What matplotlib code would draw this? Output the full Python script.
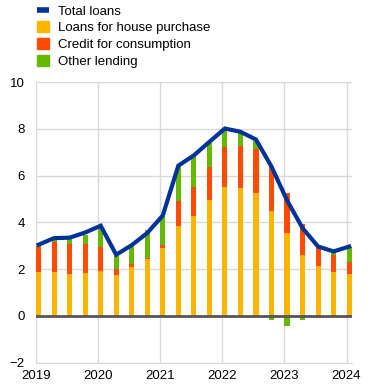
import numpy as np
import matplotlib.pyplot as plt
from matplotlib.patches import Patch
from matplotlib.lines import Line2D

plt.rcParams['font.family'] = ['Liberation Sans', 'DejaVu Sans']

# quarterly, 2019 Q1 .. 2024 Q1
years = ['2019', '2020', '2021', '2022', '2023', '2024']
house = [1.89, 1.89, 1.81, 1.85, 1.94, 1.77, 2.11, 2.45, 2.92, 3.86, 4.29,
         4.97, 5.53, 5.48, 5.27, 4.50, 3.57, 2.62, 2.12, 1.89, 1.81]
consumption = [1.06, 1.26, 1.29, 1.25, 0.99, 0.25, 0.13, 0.02, 0.11, 1.04, 1.21,
               1.41, 1.71, 1.81, 1.88, 1.92, 1.70, 1.32, 0.93, 0.72, 0.52]
other = [0.05, 0.11, 0.19, 0.37, 0.87, 0.56, 0.76, 1.22, 1.23, 1.52, 1.35,
         1.01, 0.72, 0.53, 0.34, -0.16, -0.42, -0.19, -0.10, 0.15, 0.60]
total = [3.05, 3.33, 3.35, 3.57, 3.86, 2.62, 3.03, 3.55, 4.30, 6.43, 6.87,
         7.45, 8.02, 7.88, 7.55, 6.39, 4.95, 3.76, 2.97, 2.76, 2.97]

c_blue = '#003299'
c_yellow = '#ffb400'
c_red = '#ff4b00'
c_green = '#65b800'

house = np.array(house)
consumption = np.array(consumption)
other = np.array(other)
x = np.arange(len(house))
w = 0.33

fig = plt.figure(figsize=(3.7, 3.88), dpi=100)
ax = fig.add_axes([0.0973, 0.0652, 0.8532, 0.7228])

ax.bar(x, house, w, color=c_yellow, zorder=2)
ax.bar(x, consumption, w, bottom=house, color=c_red, zorder=2)
other_bottom = np.where(other >= 0, house + consumption, 0)
ax.bar(x, other, w, bottom=other_bottom, color=c_green, zorder=2)
ax.axhline(0, color='#555555', lw=2, zorder=3)
ax.plot(x, total, color=c_blue, lw=3, zorder=4, solid_joinstyle='miter')

ax.set_xlim(-w / 2, x[-1] + w / 2)
ax.set_ylim(-2, 10)
ax.set_yticks(np.arange(-2, 11, 2))
ax.set_xticks(np.arange(0, 21, 4) - w / 2)
ax.set_xticklabels(years)
ax.tick_params(axis='both', length=0, labelsize=9.5, colors='black')
ax.tick_params(axis='y', pad=8)
ax.tick_params(axis='x', pad=5)
ax.grid(True, color='#d9d9d9', lw=1, zorder=0)
ax.set_axisbelow(True)
for s in ['top', 'right', 'left']:
    ax.spines[s].set_visible(False)
ax.spines['bottom'].set_color('#d9d9d9')

handles = [Line2D([], [], color=c_blue, lw=4, solid_capstyle='butt'),
           Patch(color=c_yellow), Patch(color=c_red), Patch(color=c_green)]
labels = ['Total loans', 'Loans for house purchase', 'Credit for consumption', 'Other lending']
fig.legend(handles, labels, loc='upper left', bbox_to_anchor=(0.085, 1.002),
           frameon=False, fontsize=9.5, handlelength=0.9, handleheight=0.9,
           handletextpad=0.75, labelspacing=0.28, borderaxespad=0)

fig.savefig('out.png', dpi=100)
